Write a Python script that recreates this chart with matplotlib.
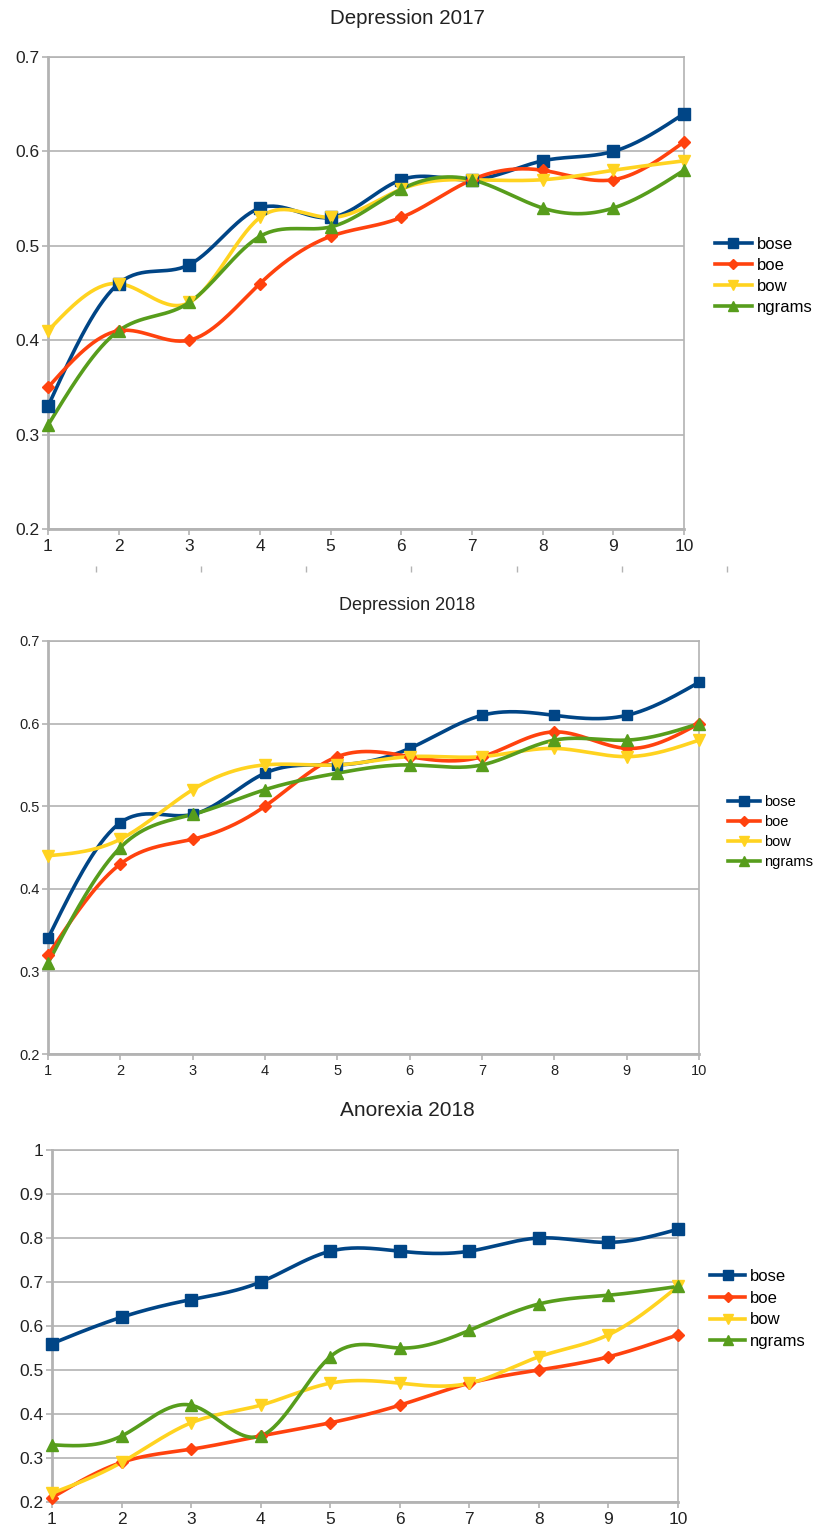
import numpy as np
import matplotlib

matplotlib.use("Agg")
import matplotlib.pyplot as plt

plt.rcParams["font.family"] = ["Liberation Sans", "DejaVu Sans"]

# --- data ---
steps = [1, 2, 3, 4, 5, 6, 7, 8, 9, 10]
series_names = ["bose", "boe", "bow", "ngrams"]

dep17_bose = [0.33, 0.46, 0.48, 0.54, 0.53, 0.57, 0.57, 0.59, 0.60, 0.64]
dep17_boe = [0.35, 0.41, 0.40, 0.46, 0.51, 0.53, 0.57, 0.58, 0.57, 0.61]
dep17_bow = [0.41, 0.46, 0.44, 0.53, 0.53, 0.56, 0.57, 0.57, 0.58, 0.59]
dep17_ngrams = [0.31, 0.41, 0.44, 0.51, 0.52, 0.56, 0.57, 0.54, 0.54, 0.58]

dep18_bose = [0.34, 0.48, 0.49, 0.54, 0.55, 0.57, 0.61, 0.61, 0.61, 0.65]
dep18_boe = [0.32, 0.43, 0.46, 0.50, 0.56, 0.56, 0.56, 0.59, 0.57, 0.60]
dep18_bow = [0.44, 0.46, 0.52, 0.55, 0.55, 0.56, 0.56, 0.57, 0.56, 0.58]
dep18_ngrams = [0.31, 0.45, 0.49, 0.52, 0.54, 0.55, 0.55, 0.58, 0.58, 0.60]

ano18_bose = [0.56, 0.62, 0.66, 0.70, 0.77, 0.77, 0.77, 0.80, 0.79, 0.82]
ano18_boe = [0.21, 0.29, 0.32, 0.35, 0.38, 0.42, 0.47, 0.50, 0.53, 0.58]
ano18_bow = [0.22, 0.29, 0.38, 0.42, 0.47, 0.47, 0.47, 0.53, 0.58, 0.69]
ano18_ngrams = [0.33, 0.35, 0.42, 0.35, 0.53, 0.55, 0.59, 0.65, 0.67, 0.69]

COLORS = ["#004586", "#ff420e", "#ffd320", "#579d1c"]
MARKERS = ["s", "D", "v", "^"]
MSIZES = [8.5, 6.5, 9, 9]
GRID = "#b3b3b3"


def natural_spline(x, y, n=300):
    """Natural cubic spline through the points (like the office chart smoothing)."""
    x = np.asarray(x, float)
    y = np.asarray(y, float)
    k = len(x)
    h = np.diff(x)
    A = np.zeros((k, k))
    r = np.zeros(k)
    A[0, 0] = A[-1, -1] = 1
    for i in range(1, k - 1):
        A[i, i - 1] = h[i - 1]
        A[i, i] = 2 * (h[i - 1] + h[i])
        A[i, i + 1] = h[i]
        r[i] = 6 * ((y[i + 1] - y[i]) / h[i] - (y[i] - y[i - 1]) / h[i - 1])
    m = np.linalg.solve(A, r)
    xs = np.linspace(x[0], x[-1], n)
    idx = np.clip(np.searchsorted(x, xs) - 1, 0, k - 2)
    x0, x1, hi = x[idx], x[idx + 1], h[idx]
    ys = (m[idx] * (x1 - xs) ** 3 / (6 * hi) + m[idx + 1] * (xs - x0) ** 3 / (6 * hi)
          + (y[idx] / hi - m[idx] * hi / 6) * (x1 - xs)
          + (y[idx + 1] / hi - m[idx + 1] * hi / 6) * (xs - x0))
    return xs, ys


def draw_chart(fig, rect, title, data, ylim, yticks, tfs, fs, title_y, leg_xy, leg_fs, leg_gap,
               ms_scale=1.0, hlen=2.2):
    ax = fig.add_axes(rect)
    handles = []
    for vals, c, mk, ms, name in zip(data, COLORS, MARKERS, MSIZES, series_names):
        xs, ys = natural_spline(steps, vals)
        ax.plot(xs, ys, color=c, lw=2.6, zorder=3, clip_on=False)
        ax.plot(steps, vals, ls="none", marker=mk, ms=ms * ms_scale, color=c, zorder=4, clip_on=False)
        h, = ax.plot([], [], color=c, lw=2.6, marker=mk, ms=ms * 0.85 * ms_scale, label=name)
        handles.append(h)
    ax.set_xlim(1, 10)
    ax.set_ylim(*ylim)
    ax.set_xticks(steps)
    ax.set_yticks(yticks)
    ax.set_yticklabels([f"{v:g}" for v in yticks])
    ax.grid(axis="y", color=GRID, lw=1.2, zorder=1)
    ax.set_axisbelow(True)
    for s in ax.spines.values():
        s.set_color(GRID)
        s.set_linewidth(1.2)
    ax.spines["left"].set_linewidth(2)
    ax.spines["bottom"].set_linewidth(2)
    ax.tick_params(colors=GRID, labelcolor="#222222", labelsize=fs, length=4, width=1.2)
    ax.tick_params(axis="x", pad=3)
    ax.tick_params(axis="y", pad=2)
    fig.text(0.5, title_y, title, ha="center", va="center", fontsize=tfs, color="#222222")
    fig.legend(handles=handles, loc="center left", bbox_to_anchor=leg_xy,
               bbox_transform=fig.transFigure, frameon=False, fontsize=leg_fs,
               handlelength=hlen, handletextpad=0.3, labelspacing=leg_gap,
               borderpad=0, borderaxespad=0)
    return ax


W, H = 814, 1532
fig = plt.figure(figsize=(W / 100, H / 100), dpi=100)


def frac(left, top, right, bottom):
    return [left / W, 1 - bottom / H, (right - left) / W, (bottom - top) / H]


draw_chart(fig, frac(48, 57, 684, 529), "Depression 2017",
           [dep17_bose, dep17_boe, dep17_bow, dep17_ngrams],
           (0.2, 0.7), [0.2, 0.3, 0.4, 0.5, 0.6, 0.7],
           tfs=14.8, fs=12.5, title_y=1 - 18 / H, leg_xy=(715 / W, 1 - 276 / H),
           leg_fs=12, leg_gap=0.35)

# stray tick marks under the first chart
tk = fig.add_axes(frac(96, 566, 727, 572))
tk.set_xlim(0, 6)
tk.set_xticks(range(7))
tk.set_xticklabels([])
tk.set_yticks([])
for s in tk.spines.values():
    s.set_visible(False)
tk.tick_params(axis="x", colors=GRID, length=4, width=1, direction="in")
tk.patch.set_alpha(0)

draw_chart(fig, frac(48, 641, 699, 1054), "Depression 2018",
           [dep18_bose, dep18_boe, dep18_bow, dep18_ngrams],
           (0.2, 0.7), [0.2, 0.3, 0.4, 0.5, 0.6, 0.7],
           tfs=13, fs=10.5, title_y=1 - 606 / H, leg_xy=(728 / W, 1 - 832 / H),
           leg_fs=10.5, leg_gap=0.4, ms_scale=0.9)

draw_chart(fig, frac(52, 1150, 678, 1502), "Anorexia 2018",
           [ano18_bose, ano18_boe, ano18_bow, ano18_ngrams],
           (0.2, 1.0), [0.2, 0.3, 0.4, 0.5, 0.6, 0.7, 0.8, 0.9, 1.0],
           tfs=15, fs=12.5, title_y=1 - 1110 / H, leg_xy=(710 / W, 1 - 1309 / H),
           leg_fs=12, leg_gap=0.4, hlen=2.1)

fig.savefig("out.png", dpi=100)
